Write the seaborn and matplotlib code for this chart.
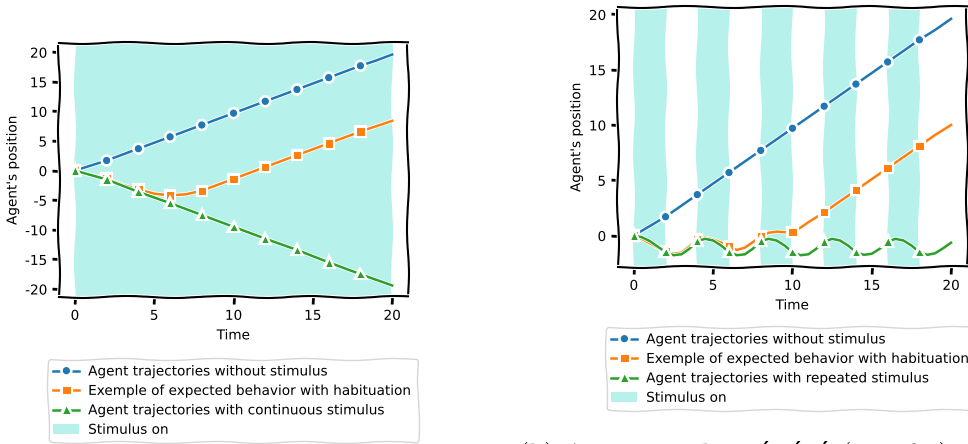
import matplotlib
matplotlib.use("Agg")
import matplotlib.pyplot as plt
import matplotlib.patheffects as pe
from matplotlib.lines import Line2D
from matplotlib.patches import Patch
import seaborn as sns

# time grids: markers every 2 time units
time = list(range(21))
time_fine = [i / 2 for i in range(41)]

# (a) continuous stimulus, values at integer times
no_stim = [0, 0.85, 1.7, 2.7, 3.7, 4.7, 5.7, 6.7, 7.7, 8.7, 9.7, 10.7, 11.7,
           12.7, 13.7, 14.7, 15.7, 16.7, 17.7, 18.6, 19.6]
habit_cont = [0, -0.7, -1.3, -2.4, -3.2, -3.9, -4.2, -4.0, -3.4, -2.4, -1.4,
              -0.4, 0.6, 1.6, 2.6, 3.6, 4.6, 5.6, 6.6, 7.5, 8.4]
cont_stim = [0, -0.75, -1.5, -2.55, -3.6, -4.55, -5.5, -6.5, -7.5, -8.5, -9.5,
             -10.5, -11.5, -12.45, -13.4, -14.45, -15.5, -16.5, -17.5, -18.45, -19.4]

# (b) repeated stimulus, values every half time unit
habit_rep = [0, -0.3, -0.7, -1.1, -1.45, -1.65, -1.55, -1.0, -0.35, -0.2,
             -0.35, -0.65, -1.0, -1.3, -1.1, -0.6, -0.1, 0.25, 0.35, 0.3,
             0.33, 0.7, 1.2, 1.65, 2.1, 2.6, 3.1, 3.6, 4.1, 4.6,
             5.1, 5.6, 6.1, 6.6, 7.1, 7.6, 8.1, 8.6, 9.1, 9.55, 10.0]
rep_stim = [0, -0.15, -0.5, -1.0, -1.5, -1.78, -1.7, -1.2, -0.5, -0.3,
            -0.45, -0.9, -1.5, -1.78, -1.7, -1.2, -0.5, -0.3, -0.45, -0.9,
            -1.5, -1.78, -1.7, -1.2, -0.55, -0.3, -0.45, -0.9, -1.5, -1.75,
            -1.65, -1.2, -0.55, -0.3, -0.45, -0.9, -1.5, -1.75, -1.6, -1.15, -0.65]

stim_cont = [(0, 20)]
stim_rep = [(0, 2), (4, 6), (8, 10), (12, 14), (16, 18)]

labels_a = ["Agent trajectories without stimulus",
            "Exemple of expected behavior with habituation",
            "Agent trajectories with continuous stimulus",
            "Stimulus on"]
labels_b = ["Agent trajectories without stimulus",
            "Exemple of expected behavior with habituation",
            "Agent trajectories with repeated stimulus",
            "Stimulus on"]

colors = ["#1f77b4", "#ff7f0e", "#2ca02c"]
markers = ["o", "s", "^"]
stim_color = "#b6f1ec"
FS = 9.8


def draw(ax, spans, series, labels, legend_xy):
    for a, b in spans:
        ax.axvspan(a, b, color=stim_color, lw=0, zorder=0)
    for (x, y, every), c, m, lab in zip(series, colors, markers, labels):
        sns.lineplot(x=x, y=y, ax=ax, color=c, marker=m,
                     markevery=slice(0, len(x) - 1, every),
                     markersize=6, linewidth=1.8, label=lab, legend=False)
    for line in ax.lines:
        line.set_sketch_params(None)
    ax.set_xlabel("Time", fontsize=FS)
    ax.set_ylabel("Agent's position", fontsize=FS)
    ax.set_xticks([0, 5, 10, 15, 20])
    ax.tick_params(length=5, width=2, labelsize=FS)
    handles = [Line2D([], [], color=c, marker=m, markersize=6, lw=1.8,
                      markeredgecolor="w", markeredgewidth=0.75)
               for c, m in zip(colors, markers)]
    handles.append(Patch(color=stim_color, lw=0))
    leg = ax.legend(handles, labels, loc="upper left", bbox_to_anchor=legend_xy,
                    bbox_transform=ax.figure.transFigure, fontsize=FS,
                    handlelength=1.9, handletextpad=0.65, borderaxespad=0,
                    labelspacing=0.4)
    for h in leg.legend_handles:
        h.set_sketch_params(None)


with plt.xkcd(scale=1, length=100, randomness=2):
    plt.rcParams["font.family"] = "DejaVu Sans"
    plt.rcParams["font.size"] = FS
    plt.rcParams["path.effects"] = [pe.withStroke(linewidth=3, foreground="w")]

    fig = plt.figure(figsize=(9.68, 4.44), dpi=100)
    ax1 = fig.add_axes([0.0610, 0.3311, 0.3605, 0.5721])
    ax2 = fig.add_axes([0.6384, 0.3986, 0.3605, 0.5856])

    draw(ax1, stim_cont,
         [(time, no_stim, 2), (time, habit_cont, 2), (time, cont_stim, 2)],
         labels_a, (48 / 968, 1 - 359 / 444))
    draw(ax2, stim_rep,
         [(time, no_stim, 2), (time_fine, habit_rep, 4), (time_fine, rep_stim, 4)],
         labels_b, (606 / 968, 1 - 327 / 444))

    # subfigure caption, cut by the bottom edge as in the source document
    fig.text(518 / 968, -0.046, "(b) Avec stimulus répété (motif 2)",
             family=["cmr10", "DejaVu Serif"], fontsize=20, va="baseline",
             path_effects=[])

    fig.savefig("out.png", dpi=100)
